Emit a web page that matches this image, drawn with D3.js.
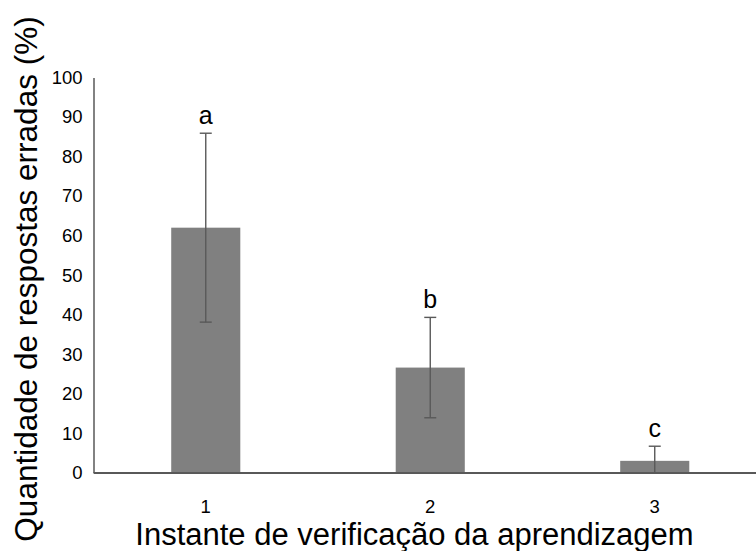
<!DOCTYPE html>
<html>
<head>
<meta charset="utf-8">
<script src="https://cdn.jsdelivr.net/npm/d3@7"></script>
<style>
  body { margin: 0; background: #fff; }
  text { font-family: "Liberation Sans", Arial, sans-serif; }
</style>
</head>
<body>
<svg id="plot" width="756" height="551"></svg>
<script>
const svg = d3.select('#plot');

// Data
const categories = ['1', '2', '3'];
const means = [62.0, 26.6, 3.0];
const errors = [23.9, 12.7, 3.7];
const letters = ['a', 'b', 'c'];
const yTicks = [0, 10, 20, 30, 40, 50, 60, 70, 80, 90, 100];

const xLabel = 'Instante de verificação da aprendizagem';
const yLabel = 'Quantidade de respostas erradas (%)';

const data = categories.map((c, i) => ({
    cat: c, mean: means[i], err: errors[i], letter: letters[i]
}));

// Scales
const xScale = d3.scaleBand()
    .domain(categories)
    .range([93.5, 767])
    .paddingInner(0.6923)
    .paddingOuter(0.3462);

const yScale = d3.scaleLinear()
    .domain([0, 100])
    .range([472.7, 77.5]);

// Axes
const yAxis = d3.axisLeft(yScale)
    .tickValues(yTicks)
    .tickSize(0)
    .tickPadding(11);

const yAxisG = svg.append('g')
    .attr('transform', `translate(${93.5}, 0)`)
    .call(yAxis);
yAxisG.select('.domain')
    .attr('stroke', '#595959')
    .attr('stroke-width', 1.5);
yAxisG.selectAll('text')
    .attr('font-size', '18.5px')
    .attr('fill', '#000');

const xAxis = d3.axisBottom(xScale)
    .tickSize(0)
    .tickPadding(27);

const xAxisG = svg.append('g')
    .attr('transform', `translate(0, ${yScale(0)})`)
    .call(xAxis);
xAxisG.select('.domain')
    .attr('stroke', '#595959')
    .attr('stroke-width', 1.5);
xAxisG.selectAll('text')
    .attr('font-size', '18.5px')
    .attr('fill', '#000');

// Bars
const barsG = svg.append('g');
barsG.selectAll('rect').data(data)
    .enter().append('rect')
        .attr('x', d => xScale(d.cat))
        .attr('y', d => yScale(d.mean))
        .attr('width', xScale.bandwidth())
        .attr('height', d => yScale(0) - yScale(d.mean))
        .attr('fill', '#808080');

// redraw baseline on top of bars
svg.append('line')
    .attr('x1', 93.5).attr('x2', 756)
    .attr('y1', yScale(0)).attr('y2', yScale(0))
    .attr('stroke', '#595959')
    .attr('stroke-width', 1.5);

// Error bars
const cx = d => xScale(d.cat) + xScale.bandwidth() / 2;
const capW = 6;
const errG = svg.append('g')
    .attr('stroke', '#595959')
    .attr('stroke-width', 1.4);

errG.selectAll('.err').data(data)
    .enter().append('line')
        .attr('class', 'err')
        .attr('x1', cx).attr('x2', cx)
        .attr('y1', d => yScale(d.mean + d.err))
        .attr('y2', d => yScale(Math.max(0, d.mean - d.err)));

errG.selectAll('.capTop').data(data)
    .enter().append('line')
        .attr('class', 'capTop')
        .attr('x1', d => cx(d) - capW).attr('x2', d => cx(d) + capW)
        .attr('y1', d => yScale(d.mean + d.err))
        .attr('y2', d => yScale(d.mean + d.err));

errG.selectAll('.capBot').data(data.filter(d => d.mean - d.err > 0))
    .enter().append('line')
        .attr('class', 'capBot')
        .attr('x1', d => cx(d) - capW).attr('x2', d => cx(d) + capW)
        .attr('y1', d => yScale(d.mean - d.err))
        .attr('y2', d => yScale(d.mean - d.err));

// Significance letters
svg.append('g').selectAll('text').data(data)
    .enter().append('text')
        .attr('x', cx)
        .attr('y', d => yScale(d.mean + d.err) - 9)
        .attr('text-anchor', 'middle')
        .attr('font-size', '25px')
        .attr('fill', '#000')
        .text(d => d.letter);

// Axis titles
svg.append('text')
    .attr('x', 414.5)
    .attr('y', 545)
    .attr('text-anchor', 'middle')
    .attr('font-size', '31px')
    .attr('fill', '#000')
    .text(xLabel);

svg.append('text')
    .attr('transform', `translate(37, 279) rotate(-90)`)
    .attr('text-anchor', 'middle')
    .attr('font-size', '31.5px')
    .attr('fill', '#000')
    .text(yLabel);
</script>
</body>
</html>
